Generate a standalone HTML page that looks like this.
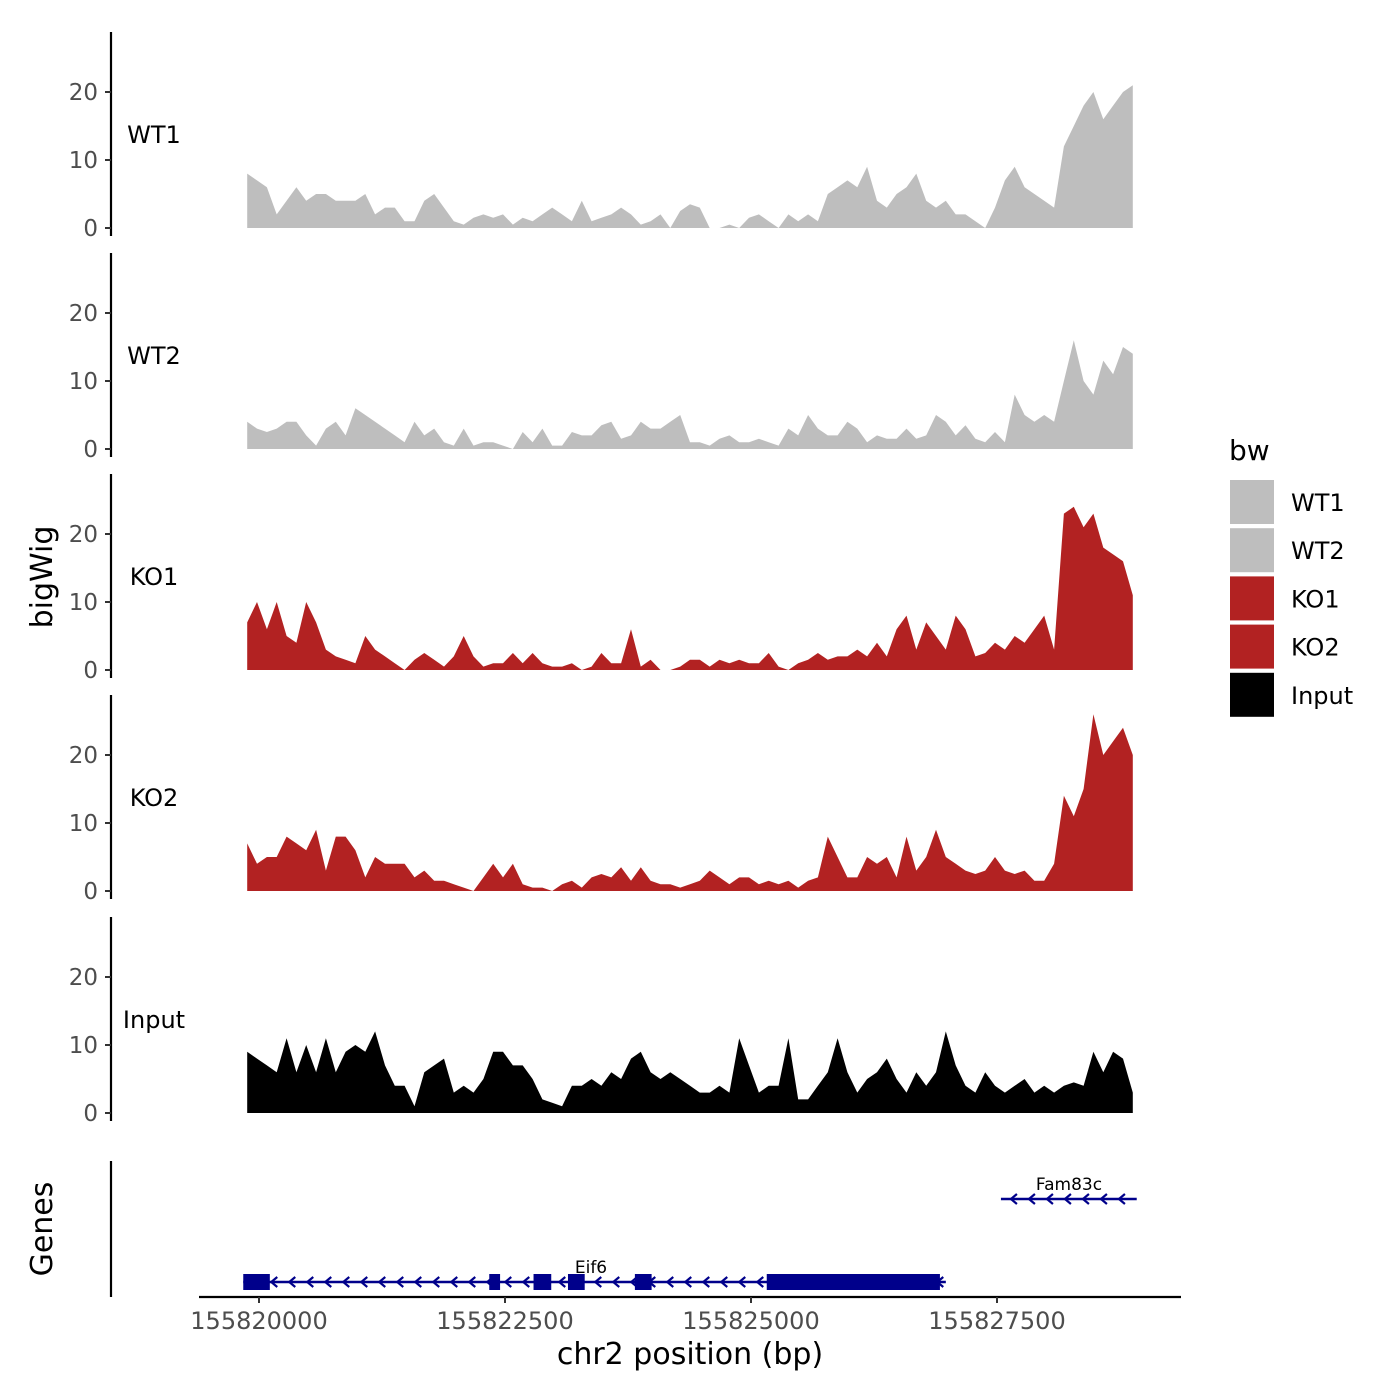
<!DOCTYPE html>
<html><head><meta charset="utf-8"><style>
html,body{margin:0;padding:0;background:#fff}
svg{display:block;font-family:"DejaVu Sans","Liberation Sans",sans-serif}
</style></head><body>
<svg id="chart" width="1400" height="1400" viewBox="0 0 1400 1400" xmlns="http://www.w3.org/2000/svg">
<rect width="1400" height="1400" fill="#fff"/>
<g id="tracks"></g>
<g id="genes"></g>
<g id="legend"></g>
<text x="52" y="577" font-size="30" text-anchor="middle" transform="rotate(-90 52 577)">bigWig</text>
<text x="52" y="1229" font-size="30" text-anchor="middle" transform="rotate(-90 52 1229)">Genes</text>
<text x="690" y="1364" font-size="30" text-anchor="middle">chr2 position (bp)</text>
</svg>
<script>
const trackNames = ["WT1","WT2","KO1","KO2","Input"];
const trackColors = ["#BEBEBE","#BEBEBE","#B22222","#B22222","#000000"];
const startBp = 155819880, endBp = 155828880;
const wt1 = [8,7,6,2,4,6,4,5,5,4,4,4,5,2,3,3,1,1,4,5,3,1,0.5,1.5,2,1.5,2,0.5,1.5,1,2,3,2,1,4,1,1.5,2,3,2,0.5,1,2,0,2.5,3.5,3,0,0,0.5,0,1.5,2,1,0,2,1,2,1,5,6,7,6,9,4,3,5,6,8,4,3,4,2,2,1,0,3,7,9,6,5,4,3,12,15,18,20,16,18,20,21];
const wt2 = [4,3,2.5,3,4,4,2,0.5,3,4,2,6,5,4,3,2,1,4,2,3,1,0.5,3,0.5,1,1,0.5,0,2.5,1,3,0.5,0.5,2.5,2,2,3.5,4,1.5,2,4,3,3,4,5,1,1,0.5,1.5,2,1,1,1.5,1,0.5,3,2,5,3,2,2,4,3,1,2,1.5,1.5,3,1.5,2,5,4,2,3.5,1.5,1,2.5,1,8,5,4,5,4,10,16,10,8,13,11,15,14];
const ko1 = [7,10,6,10,5,4,10,7,3,2,1.5,1,5,3,2,1,0,1.5,2.5,1.5,0.5,2,5,2,0.5,1,1,2.5,1,2.5,1,0.5,0.5,1,0,0.5,2.5,1,1,6,0.5,1.5,0,0,0.5,1.5,1.5,0.5,1.5,1,1.5,1,1,2.5,0.5,0,1,1.5,2.5,1.5,2,2,3,2,4,2,6,8,3,7,5,3,8,6,2,2.5,4,3,5,4,6,8,3,23,24,21,23,18,17,16,11];
const ko2 = [7,4,5,5,8,7,6,9,3,8,8,6,2,5,4,4,4,2,3,1.5,1.5,1,0.5,0,2,4,2,4,1,0.5,0.5,0,1,1.5,0.5,2,2.5,2,3.5,1.5,3.5,1.5,1,1,0.5,1,1.5,3,2,1,2,2,1,1.5,1,1.5,0.5,1.5,2,8,5,2,2,5,4,5,2,8,3,5,9,5,4,3,2.5,3,5,3,2.5,3,1.5,1.5,4,14,11,15,26,20,22,24,20];
const inputSig = [9,8,7,6,11,6,10,6,11,6,9,10,9,12,7,4,4,1,6,7,8,3,4,3,5,9,9,7,7,5,2,1.5,1,4,4,5,4,6,5,8,9,6,5,6,5,4,3,3,4,3,11,7,3,4,4,11,2,2,4,6,11,6,3,5,6,8,5,3,6,4,6,12,7,4,3,6,4,3,4,5,3,4,3,4,4.5,4,9,6,9,8,3];
const series = [wt1, wt2, ko1, ko2, inputSig];
const yTicks = [0,10,20];
const xTicks = [155820000,155822500,155825000,155827500];
const geneNames = ["Eif6","Fam83c"];
const geneStarts = [155819840, 155827540];
const geneEnds = [155826980, 155828920];
const exonStarts = [155819840,155822340,155822790,155823140,155823820,155825160];
const exonEnds = [155820110,155822450,155822970,155823310,155823990,155826920];

const NS = "http://www.w3.org/2000/svg";
function el(tag, attrs, parent, txt){const e=document.createElementNS(NS,tag);for(const k in attrs)e.setAttribute(k,attrs[k]);if(txt!==undefined)e.textContent=txt;parent.appendChild(e);return e;}
const xScale = bp => 259 + (bp-155820000)*246/2500;
const zeroY = [228,449,670,891,1113];
const yScale = (v,i) => zeroY[i] - v*6.8;

const tracks = document.getElementById("tracks");
series.forEach((vals,i)=>{
  const g = el("g",{},tracks);
  
  
  const n = vals.length, step=(endBp-startBp)/(n-1);
  let d = "M"+xScale(startBp).toFixed(1)+","+zeroY[i];
  vals.forEach((v,j)=>{ d += " L"+xScale(startBp+j*step).toFixed(1)+","+yScale(v,i).toFixed(1); });
  d += " L"+xScale(endBp).toFixed(1)+","+zeroY[i]+" Z";
  const p = el("path",{d:d,fill:trackColors[i]},g);
  
  
  const ax = el("line",{x1:111,x2:111,y1:zeroY[i]-196,y2:zeroY[i]+8,stroke:"#000","stroke-width":2.2},g);
  
  
  yTicks.forEach(t=>{
    const y=yScale(t,i);
    const tk = el("line",{x1:105,x2:111,y1:y,y2:y,stroke:"#333","stroke-width":2},g);
    
    
    const tl = el("text",{x:98,y:y+8,"font-size":23,fill:"#4d4d4d","text-anchor":"end"},g,String(t));
    
    
  });
  const lb = el("text",{x:154,y:zeroY[i]-85,"font-size":24,"text-anchor":"middle"},g,trackNames[i]);
  
  
});

const genes = document.getElementById("genes");
const gax = el("line",{x1:111,x2:111,y1:1161,y2:1297,stroke:"#000","stroke-width":2.2},genes);


const xax = el("line",{x1:199,x2:1181,y1:1297,y2:1297,stroke:"#000","stroke-width":2.2},genes);


xTicks.forEach(t=>{
  const x=xScale(t);
  const tk=el("line",{x1:x,x2:x,y1:1297,y2:1303,stroke:"#333","stroke-width":2},genes);
  
  
  const tl=el("text",{x:x,y:1329,"font-size":24,fill:"#4d4d4d","text-anchor":"middle"},genes,String(t));
  
  
});
const geneY = [1282,1199];
geneNames.forEach((nm,i)=>{
  const x1=xScale(geneStarts[i]), x2=xScale(geneEnds[i]), y=geneY[i];
  const ln=el("line",{x1:x1,x2:x2,y1:y,y2:y,stroke:"#00008B","stroke-width":2.5},genes);
  
  
  for(let x=x1+12;x<x2-4;x+=18){
    const ch=el("path",{d:"M"+(x+4)+","+(y-5)+" L"+(x-2)+","+y+" L"+(x+4)+","+(y+5),fill:"none",stroke:"#00008B","stroke-width":2.2},genes);
    
    
  }
  const lb=el("text",{x:(i===0?591:1069),y:y-9,"font-size":17,"text-anchor":"middle"},genes,nm);
  
  
});
exonStarts.forEach((s,j)=>{
  const x1=xScale(s), x2=xScale(exonEnds[j]);
  const r=el("rect",{x:x1,y:1274,width:x2-x1,height:16,fill:"#00008B"},genes);
  
  
});

const legend = document.getElementById("legend");
const lt=el("text",{x:1229,y:460,"font-size":28},legend,"bw");


trackNames.forEach((nm,i)=>{
  const y=480+i*48.2;
  const k=el("rect",{x:1230,y:y,width:44,height:44,fill:trackColors[i]},legend);
  
  
  const t=el("text",{x:1291,y:y+31,"font-size":24},legend,nm);
  
  
});
</script>
</body></html>
